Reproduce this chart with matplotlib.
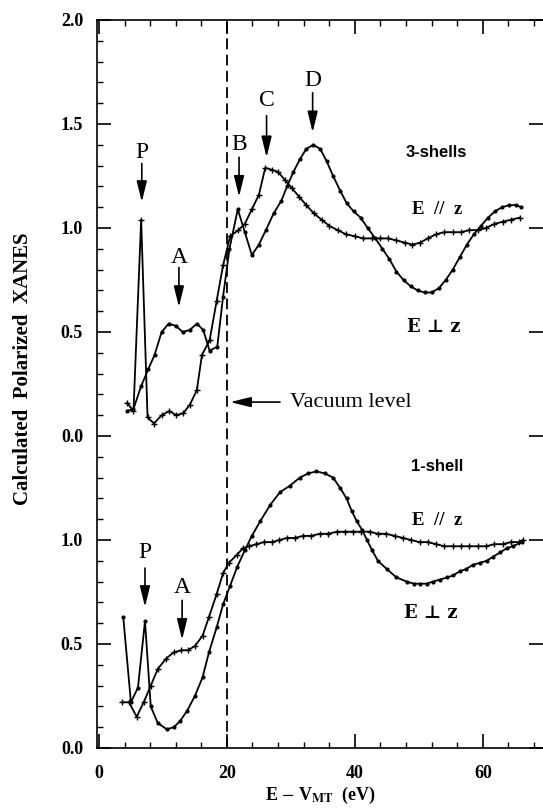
import matplotlib
matplotlib.use('Agg')
import matplotlib.pyplot as plt
from matplotlib.ticker import FixedLocator, MultipleLocator

plt.rcParams['font.family'] = ['Liberation Serif', 'DejaVu Serif']
plt.rcParams['mathtext.fontset'] = 'stix'

# vertical offset of the 3-shell curves above the 1-shell ones
UPPER_SHIFT = 1.5

# 3-shell cluster, E // z
up_par_e = [4.4, 5.4, 6.6, 7.6, 8.6, 9.8, 11.0, 12.1, 13.2, 14.2, 15.3, 16.1,
            17.3, 18.4, 19.4, 20.5, 21.8, 22.8, 23.9, 25.0, 26.0, 27.0, 28.0,
            29.1, 30.2, 31.3, 32.4, 33.6, 34.8, 36.0, 37.3, 38.6, 40.0, 41.3,
            42.6, 43.9, 45.2, 46.5, 47.8, 49.0, 50.2, 51.4, 52.7, 54.0, 55.3,
            56.6, 57.9, 59.2, 60.5, 61.8, 63.1, 64.4, 65.8]
up_par_y = [0.16, 0.12, 1.04, 0.09, 0.06, 0.10, 0.12, 0.10, 0.11, 0.15, 0.22,
            0.39, 0.46, 0.65, 0.82, 0.96, 0.99, 1.02, 1.09, 1.16, 1.29, 1.28,
            1.27, 1.23, 1.19, 1.15, 1.11, 1.07, 1.04, 1.01, 0.99, 0.97, 0.96,
            0.95, 0.95, 0.95, 0.95, 0.94, 0.93, 0.92, 0.93, 0.95, 0.97, 0.98,
            0.98, 0.98, 0.99, 0.99, 1.00, 1.02, 1.03, 1.04, 1.05]

# 3-shell cluster, E perpendicular to z
up_perp_e = [4.4, 5.4, 6.6, 7.7, 8.7, 9.8, 10.9, 12.0, 13.1, 14.2, 15.3, 16.3,
             17.3, 18.5, 19.4, 20.4, 21.7, 22.8, 23.9, 25.0, 26.1, 27.3, 28.5,
             29.4, 30.4, 31.4, 32.4, 33.5, 34.6, 35.6, 36.6, 37.7, 38.7, 39.8,
             40.9, 42.0, 43.2, 44.3, 45.4, 46.5, 47.6, 48.7, 49.8, 50.9, 52.0,
             53.1, 54.2, 55.3, 56.4, 57.5, 58.6, 59.7, 60.8, 61.9, 63.0, 64.1,
             65.2, 66.0]
up_perp_y = [0.12, 0.13, 0.24, 0.32, 0.39, 0.50, 0.54, 0.53, 0.50, 0.51, 0.54,
             0.51, 0.41, 0.43, 0.67, 0.90, 1.09, 0.98, 0.87, 0.92, 0.99, 1.07,
             1.13, 1.20, 1.27, 1.33, 1.38, 1.40, 1.38, 1.32, 1.25, 1.18, 1.12,
             1.08, 1.05, 1.00, 0.95, 0.90, 0.85, 0.79, 0.75, 0.72, 0.70, 0.69,
             0.69, 0.71, 0.75, 0.80, 0.86, 0.92, 0.97, 1.01, 1.05, 1.08, 1.10,
             1.11, 1.11, 1.10]

# 1-shell cluster, E // z
lo_par_e = [3.6, 4.7, 5.9, 7.0, 8.1, 9.2, 10.5, 11.7, 12.9, 13.9, 15.0, 16.2,
            17.2, 18.4, 19.4, 20.3, 21.6, 22.5, 23.5, 24.6, 25.8, 27.0, 28.2,
            29.4, 30.6, 31.9, 33.2, 34.5, 35.8, 37.2, 38.5, 39.7, 41.0, 42.3,
            43.6, 44.9, 46.2, 47.5, 48.8, 50.1, 51.4, 52.7, 54.0, 55.3, 56.6,
            57.9, 59.2, 60.5, 61.8, 63.1, 64.4, 65.6, 66.3]
lo_par_y = [0.22, 0.22, 0.15, 0.22, 0.30, 0.38, 0.43, 0.46, 0.47, 0.47, 0.49,
            0.54, 0.63, 0.74, 0.84, 0.89, 0.93, 0.96, 0.97, 0.98, 0.99, 0.99,
            1.00, 1.01, 1.01, 1.02, 1.02, 1.03, 1.03, 1.04, 1.04, 1.04, 1.04,
            1.04, 1.03, 1.03, 1.02, 1.01, 1.00, 0.99, 0.99, 0.98, 0.97, 0.97,
            0.97, 0.97, 0.97, 0.97, 0.98, 0.98, 0.99, 0.99, 1.00]

# 1-shell cluster, E perpendicular to z
lo_perp_e = [3.8, 5.0, 6.1, 7.2, 8.1, 9.2, 10.6, 11.7, 12.7, 13.8, 15.0, 16.2,
             17.2, 18.4, 19.4, 20.5, 21.6, 22.8, 23.9, 25.2, 26.8, 28.3, 29.8,
             31.4, 32.7, 34.0, 35.3, 36.6, 37.7, 38.7, 39.5, 40.3, 41.1, 41.9,
             42.7, 43.6, 45.0, 46.5, 48.1, 49.2, 50.2, 51.2, 52.2, 53.3, 54.4,
             55.4, 56.4, 57.4, 58.4, 59.5, 60.6, 61.6, 62.7, 63.7, 64.7, 66.1]
lo_perp_y = [0.63, 0.22, 0.29, 0.61, 0.20, 0.12, 0.09, 0.10, 0.13, 0.18, 0.25,
             0.34, 0.46, 0.58, 0.69, 0.78, 0.87, 0.95, 1.02, 1.09, 1.17, 1.23,
             1.26, 1.30, 1.32, 1.33, 1.32, 1.30, 1.25, 1.20, 1.14, 1.09, 1.05,
             1.00, 0.95, 0.90, 0.86, 0.82, 0.80, 0.79, 0.79, 0.79, 0.80, 0.81,
             0.82, 0.83, 0.85, 0.86, 0.88, 0.89, 0.90, 0.92, 0.94, 0.96, 0.97,
             0.99]

vacuum_level = 20.0

ytick_pos = [0.0, 0.5, 1.0, 1.5, 2.0, 2.5, 3.0, 3.5]
ytick_labels = ['0.0', '0.5', '1.0', '0.0', '0.5', '1.0', '1.5', '2.0']
xtick_pos = [0, 20, 40, 60]


def shift(vals, dy):
    return [v + dy for v in vals]


fig = plt.figure(figsize=(5.43, 8.10), dpi=100)
ax = fig.add_axes([97 / 543, 62 / 810, 446 / 543, 728 / 810])

line_kw = dict(color='black', lw=1.3)
ax.plot(up_par_e, shift(up_par_y, UPPER_SHIFT), marker='+', ms=3.8, mew=1.0, **line_kw)
ax.plot(up_perp_e, shift(up_perp_y, UPPER_SHIFT), marker='o', ms=3.0, mew=0, **line_kw)
ax.plot(lo_par_e, lo_par_y, marker='+', ms=3.8, mew=1.0, **line_kw)
ax.plot(lo_perp_e, lo_perp_y, marker='o', ms=3.0, mew=0, **line_kw)

ax.axvline(vacuum_level, color='black', lw=1.3, dashes=(6, 3))

ax.set_xlim(-0.3, 69.4)
ax.set_ylim(0, 3.5)

ax.xaxis.set_major_locator(FixedLocator(xtick_pos))
ax.xaxis.set_minor_locator(MultipleLocator(4))
ax.yaxis.set_major_locator(FixedLocator(ytick_pos))
ax.set_yticklabels(ytick_labels)
ax.yaxis.set_minor_locator(MultipleLocator(0.1))

ax.tick_params(which='both', direction='in', top=True, right=True)
ax.tick_params(which='major', length=10, width=1.2)
ax.tick_params(which='minor', length=4, width=1.0, right=False)
ax.tick_params(axis='y', which='major', pad=10)
ax.tick_params(axis='x', which='major', pad=12)
for lab in ax.get_xticklabels() + ax.get_yticklabels():
    lab.set_fontsize(13)
    lab.set_fontweight('bold')

for side in ('left', 'bottom', 'top'):
    ax.spines[side].set_linewidth(1.2)
ax.spines['right'].set_visible(False)

ax.set_xlabel(r'E $-$ V$_{\mathbf{MT}}$  (eV)', fontsize=13, fontweight='bold',
              labelpad=2)
fig.text(23 / 543, 1 - 369 / 810, 'Calculated  Polarized  XANES', rotation=90,
         ha='center', va='center', fontsize=15, fontweight='bold')

# peak markers: (label, energy, text y, arrow start, arrow tip)
peaks = [('P', 6.7, 2.865, 2.81, 2.625),
         ('A', 12.5, 2.356, 2.31, 2.12),
         ('B', 21.9, 2.90, 2.84, 2.65),
         ('C', 26.2, 3.115, 3.04, 2.84),
         ('D', 33.4, 3.21, 3.15, 2.96),
         ('P', 7.2, 0.94, 0.865, 0.678),
         ('A', 13.0, 0.77, 0.71, 0.52)]
arrow = dict(arrowstyle='-|>,head_length=0.9,head_width=0.22', color='black',
             lw=1.2, mutation_scale=14, shrinkA=0, shrinkB=0)
for name, e, ty, y0, y1 in peaks:
    ax.text(e, ty, name, ha='center', va='center', fontsize=17)
    ax.annotate('', xy=(e, y1), xytext=(e, y0), arrowprops=arrow)

ax.annotate('', xy=(20.5, 1.663), xytext=(28.3, 1.663), arrowprops=arrow)
ax.text(29.8, 1.663, 'Vacuum level', ha='left', va='center', fontsize=16)

ax.text(52.8, 2.865, '3-shells', ha='center', va='center', fontsize=12,
        fontweight='bold', family='Liberation Sans')
ax.text(52.8, 1.351, '1-shell', ha='center', va='center', fontsize=12,
        fontweight='bold', family='Liberation Sans')
ax.text(52.8, 2.587, 'E  //  z', ha='center', va='center', fontsize=13.5,
        fontweight='bold')
ax.text(52.4, 2.024, 'E \u22a5 z', ha='center', va='center', fontsize=13,
        fontweight='bold', family=['DejaVu Serif'])
ax.text(52.8, 1.096, 'E  //  z', ha='center', va='center', fontsize=13.5,
        fontweight='bold')
ax.text(51.9, 0.649, 'E \u22a5 z', ha='center', va='center', fontsize=13,
        fontweight='bold', family=['DejaVu Serif'])

fig.savefig('out.png', dpi=100)
